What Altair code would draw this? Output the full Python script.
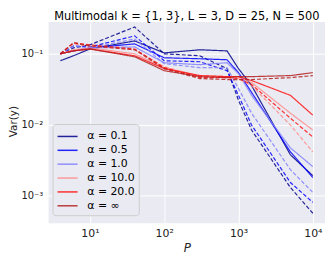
import altair as alt
import pandas as pd

P = [4, 6, 10, 40, 100, 300, 700, 1000, 1500, 5000, 10000]

labels = ["α = 0.1", "α = 0.5", "α = 1.0", "α = 10.0", "α = 20.0", "α = ∞"]
colors = ["#00008b", "#0000ff", "#8080ff", "#ff8c8c", "#ff1010", "#b41e1e"]

# solid lines
a01_solid = [0.0798, 0.0938, 0.117, 0.152, 0.103, 0.114, 0.110, 0.0617, 0.0356, 0.00374, 0.00190]
a05_solid = [0.100, 0.110, 0.121, 0.138, 0.0879, 0.0851, 0.0824, 0.0542, 0.0285, 0.00412, 0.00179]
a1_solid = [0.100, 0.110, 0.121, 0.125, 0.0748, 0.0702, 0.0748, 0.0525, 0.0259, 0.00469, 0.00255]
a10_solid = [0.100, 0.114, 0.121, 0.100, 0.0637, 0.0492, 0.0476, 0.0476, 0.0393, 0.0145, 0.00838]
a20_solid = [0.100, 0.110, 0.117, 0.0938, 0.0617, 0.0492, 0.0476, 0.0476, 0.0419, 0.0259, 0.0136]
ainf_solid = [0.100, 0.110, 0.117, 0.0908, 0.0578, 0.0476, 0.0461, 0.0476, 0.0476, 0.0492, 0.0542]

# dashed lines
a01_dash = [0.100, 0.121, 0.134, 0.239, 0.100, 0.0938, 0.0617, 0.0220, 0.00838, 0.00129, 0.000560]
a05_dash = [0.100, 0.129, 0.125, 0.179, 0.0798, 0.0773, 0.0578, 0.0259, 0.00984, 0.00152, 0.000798]
a1_dash = [0.100, 0.129, 0.121, 0.162, 0.0725, 0.0637, 0.0637, 0.0323, 0.0145, 0.00231, 0.00110]
a10_dash = [0.100, 0.138, 0.129, 0.114, 0.0658, 0.0476, 0.0461, 0.0447, 0.0356, 0.00984, 0.00412]
a20_dash = [0.100, 0.143, 0.134, 0.117, 0.0637, 0.0461, 0.0461, 0.0447, 0.0368, 0.0123, 0.00668]
ainf_dash = [0.100, 0.143, 0.129, 0.114, 0.0617, 0.0447, 0.0433, 0.0433, 0.0433, 0.0461, 0.0492]

solid = [a01_solid, a05_solid, a1_solid, a10_solid, a20_solid, ainf_solid]
dashed = [a01_dash, a05_dash, a1_dash, a10_dash, a20_dash, ainf_dash]

rows = []
order = 0
for lab, s, d in zip(labels, solid, dashed):
    for style, vals in (("solid", s), ("dashed", d)):
        for p, v in zip(P, vals):
            rows.append({"P": p, "var": v, "alpha": lab, "style": style,
                         "series": f"{order:02d}"})
        order += 1
df = pd.DataFrame(rows)

font = "DejaVu Sans"

x_expr = ("datum.value == 10 ? '10\u00b9' : datum.value == 100 ? '10\u00b2' : "
          "datum.value == 1000 ? '10\u00b3' : datum.value == 10000 ? '10\u2074' : ''")
y_expr = ("datum.value == 0.1 ? '10\u207b\u00b9' : datum.value == 0.01 ? '10\u207b\u00b2' : "
          "datum.value == 0.001 ? '10\u207b\u00b3' : ''")

chart = alt.Chart(df).mark_line(strokeWidth=1.2, opacity=0.85).encode(
    x=alt.X("P:Q",
            scale=alt.Scale(type="log", domain=[2.78, 14590], nice=False),
            axis=alt.Axis(values=[10, 100, 1000, 10000], labelExpr=x_expr,
                          title="P", titleFontStyle="italic", titleFontWeight="normal",
                          ticks=False, domain=False, labelPadding=5,
                          titleFontSize=12, labelFontSize=11, titlePadding=4)),
    y=alt.Y("var:Q",
            scale=alt.Scale(type="log", domain=[4.06e-4, 0.281], nice=False),
            axis=alt.Axis(values=[0.001, 0.01, 0.1], labelExpr=y_expr,
                          title="Var(y)", titleFontWeight="normal",
                          ticks=False, domain=False, labelPadding=6,
                          titleFontSize=10.5, labelFontSize=10,
                          titleX=-30, titleY=100, titleAngle=270,
                          titleAlign="center", titleBaseline="bottom")),
    color=alt.Color("alpha:N",
                    scale=alt.Scale(domain=labels, range=colors),
                    sort=labels,
                    legend=alt.Legend(title=None, orient="none", legendX=4, legendY=103,
                                      symbolType="M-1,0H1.7", symbolStrokeWidth=1.5,
                                      symbolSize=225, labelFontSize=11, labelFont=font,
                                      rowPadding=0, padding=4, fillColor="#eaeaf2",
                                      strokeColor="#cccccc", cornerRadius=3,
                                      labelOffset=14)),
    strokeDash=alt.StrokeDash("style:N",
                              scale=alt.Scale(domain=["solid", "dashed"], range=[[1, 0], [4, 2]]),
                              legend=None),
    detail="series:N",
    order=alt.Order("series:N"),
).properties(
    width=279,
    height=203,
    title=alt.TitleParams("Multimodal k = {1, 3}, L = 3, D = 25, N = 500",
                          fontSize=11.5, fontWeight="normal", font=font, offset=0),
    padding={"left": 41, "top": 13, "right": 0, "bottom": 30},
    autosize="none",
).configure_view(
    fill="#eaeaf2", stroke=None
).configure_axis(
    gridColor="white", gridWidth=1, labelFont=font, titleFont=font,
    labelColor="#222222", titleColor="#222222"
)

chart.save("out.html", embed_options={"renderer": "svg", "actions": False})
